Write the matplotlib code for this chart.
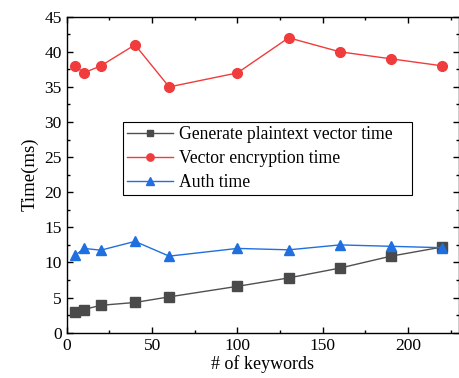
import matplotlib
matplotlib.use("Agg")
import matplotlib.pyplot as plt
from matplotlib.ticker import MultipleLocator

plt.rcParams['font.family'] = ['Liberation Serif']
plt.rcParams['mathtext.fontset'] = 'stix'

keywords = [5, 10, 20, 40, 60, 100, 130, 160, 190, 220]
gen_time = [2.95, 3.3, 3.9, 4.3, 5.1, 6.6, 7.8, 9.2, 10.9, 12.2]
enc_time = [38, 37, 38, 41, 35, 37, 42, 40, 39, 38]
auth_time = [11.0, 12.0, 11.75, 13.0, 10.9, 12.0, 11.8, 12.5, 12.3, 12.1]

labels = ["Generate plaintext vector time", "Vector encryption time", "Auth time"]

fig = plt.figure(figsize=(4.59, 3.78), dpi=100)
ax = fig.add_axes([0.1453, 0.1199, 0.8537, 0.8359])

ax.plot(keywords, gen_time, color='#505050', marker='s', markersize=6.5, lw=1.0,
        markerfacecolor='#4a4a4a', markeredgecolor='#4a4a4a', label=labels[0])
ax.plot(keywords, enc_time, color='#f03c3c', marker='o', markersize=7, lw=1.0,
        markerfacecolor='#f03c3c', markeredgecolor='#f03c3c', label=labels[1])
ax.plot(keywords, auth_time, color='#1f6fe0', marker='^', markersize=7.5, lw=1.0,
        markerfacecolor='#1f6fe0', markeredgecolor='#1f6fe0', label=labels[2])

ax.set_xlim(0, 229.5)
ax.set_ylim(0, 45)
ax.xaxis.set_major_locator(MultipleLocator(50))
ax.xaxis.set_minor_locator(MultipleLocator(25))
ax.yaxis.set_major_locator(MultipleLocator(5))
ax.yaxis.set_minor_locator(MultipleLocator(2.5))
ax.tick_params(which='both', direction='in', top=True, right=True, labelsize=12.5, width=1)
ax.tick_params(which='major', length=4.5)
ax.tick_params(which='minor', length=2.5)
for s in ax.spines.values():
    s.set_linewidth(1.0)

ax.set_xlabel("# of keywords", fontsize=13, labelpad=1)
ax.set_ylabel("Time(ms)", fontsize=13.5, labelpad=4)

leg = ax.legend(loc='upper left', bbox_to_anchor=(0.1437, 0.4263, 0.7376, 0.2405),
                mode='expand', fontsize=12.7,
                frameon=True, fancybox=False, edgecolor='black', framealpha=1,
                handlelength=2.6, handletextpad=0.3, borderpad=0.25, labelspacing=0.38,
                markerscale=0.75, borderaxespad=0)
leg.get_frame().set_linewidth(0.8)

fig.savefig("out.png", dpi=100)
